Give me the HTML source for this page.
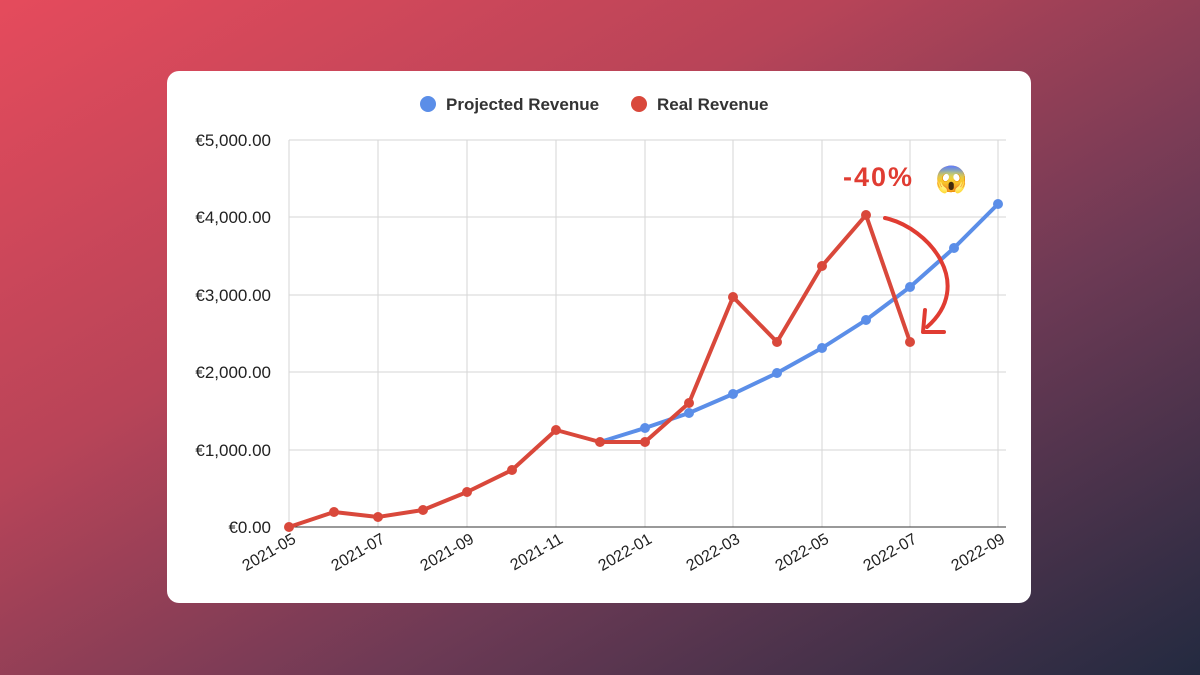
<!DOCTYPE html>
<html><head><style>
html,body{margin:0;padding:0;width:1200px;height:675px;overflow:hidden}
body{background:linear-gradient(150deg,#e54b5c 0%,#b84458 35%,#6e3a55 65%,#232a40 100%)}
</style></head><body>
<svg width="1200" height="675" style="position:absolute;left:0;top:0" font-family="Liberation Sans, Arial, sans-serif">
<rect x="167" y="71" width="864" height="532" rx="12" fill="#fff"/>
<g stroke="#d6d6d6" stroke-width="1">
<line x1="289" y1="140" x2="1006" y2="140"/><line x1="289" y1="217" x2="1006" y2="217"/>
<line x1="289" y1="295" x2="1006" y2="295"/><line x1="289" y1="372" x2="1006" y2="372"/>
<line x1="289" y1="450" x2="1006" y2="450"/>
<line x1="289" y1="140" x2="289" y2="527"/><line x1="378" y1="140" x2="378" y2="527"/>
<line x1="467" y1="140" x2="467" y2="527"/><line x1="556" y1="140" x2="556" y2="527"/>
<line x1="645" y1="140" x2="645" y2="527"/><line x1="733" y1="140" x2="733" y2="527"/>
<line x1="822" y1="140" x2="822" y2="527"/><line x1="910" y1="140" x2="910" y2="527"/>
<line x1="998" y1="140" x2="998" y2="527"/>
</g>
<line x1="289" y1="527" x2="1006" y2="527" stroke="#333" stroke-width="1"/>
<g font-size="17" fill="#222" text-anchor="end">
<text x="271" y="146">€5,000.00</text><text x="271" y="223">€4,000.00</text>
<text x="271" y="301">€3,000.00</text><text x="271" y="378">€2,000.00</text>
<text x="271" y="456">€1,000.00</text><text x="271" y="533">€0.00</text>
</g>
<g font-size="16" fill="#222" text-anchor="end">
<text transform="translate(297,542) rotate(-30)">2021-05</text>
<text transform="translate(386,542) rotate(-30)">2021-07</text>
<text transform="translate(475,542) rotate(-30)">2021-09</text>
<text transform="translate(564,542) rotate(-30)">2021-11</text>
<text transform="translate(653,542) rotate(-30)">2022-01</text>
<text transform="translate(741,542) rotate(-30)">2022-03</text>
<text transform="translate(830,542) rotate(-30)">2022-05</text>
<text transform="translate(918,542) rotate(-30)">2022-07</text>
<text transform="translate(1006,542) rotate(-30)">2022-09</text>
</g>
<circle cx="428" cy="104" r="8" fill="#5b8ee8"/>
<text x="446" y="110" font-size="17" font-weight="bold" fill="#333">Projected Revenue</text>
<circle cx="639" cy="104" r="8" fill="#d9483b"/>
<text x="657" y="110" font-size="17" font-weight="bold" fill="#333">Real Revenue</text>
<polyline fill="none" stroke="#5b8ee8" stroke-width="4" stroke-linejoin="round" points="600,442 645,428 689,413 733,394 777,373 822,348 866,320 910,287 954,248 998,204"/>
<g fill="#5b8ee8"><circle cx="645" cy="428" r="5"/><circle cx="689" cy="413" r="5"/><circle cx="733" cy="394" r="5"/><circle cx="777" cy="373" r="5"/><circle cx="822" cy="348" r="5"/><circle cx="866" cy="320" r="5"/><circle cx="910" cy="287" r="5"/><circle cx="954" cy="248" r="5"/><circle cx="998" cy="204" r="5"/></g>
<polyline fill="none" stroke="#d9483b" stroke-width="4" stroke-linejoin="round" points="289,527 334,512 378,517 423,510 467,492 512,470 556,430 600,442 645,442 689,403 733,297 777,342 822,266 866,215 910,342"/>
<g fill="#d9483b"><circle cx="289" cy="527" r="5"/><circle cx="334" cy="512" r="5"/><circle cx="378" cy="517" r="5"/><circle cx="423" cy="510" r="5"/><circle cx="467" cy="492" r="5"/><circle cx="512" cy="470" r="5"/><circle cx="556" cy="430" r="5"/><circle cx="600" cy="442" r="5"/><circle cx="645" cy="442" r="5"/><circle cx="689" cy="403" r="5"/><circle cx="733" cy="297" r="5"/><circle cx="777" cy="342" r="5"/><circle cx="822" cy="266" r="5"/><circle cx="866" cy="215" r="5"/><circle cx="910" cy="342" r="5"/></g>
<path d="M885,218 C930,228 975,285 927,327" fill="none" stroke="#e03c32" stroke-width="4" stroke-linecap="round"/>
<path d="M925,310 L923,332 L944,332" fill="none" stroke="#e03c32" stroke-width="4" stroke-linecap="round" stroke-linejoin="round"/>
<text x="843" y="186" font-size="27" font-weight="bold" fill="#e03c32" letter-spacing="2">-40%</text>
<text x="935" y="188" font-size="26" font-family="Noto Color Emoji, sans-serif">😱</text>
</svg>
</body></html>
